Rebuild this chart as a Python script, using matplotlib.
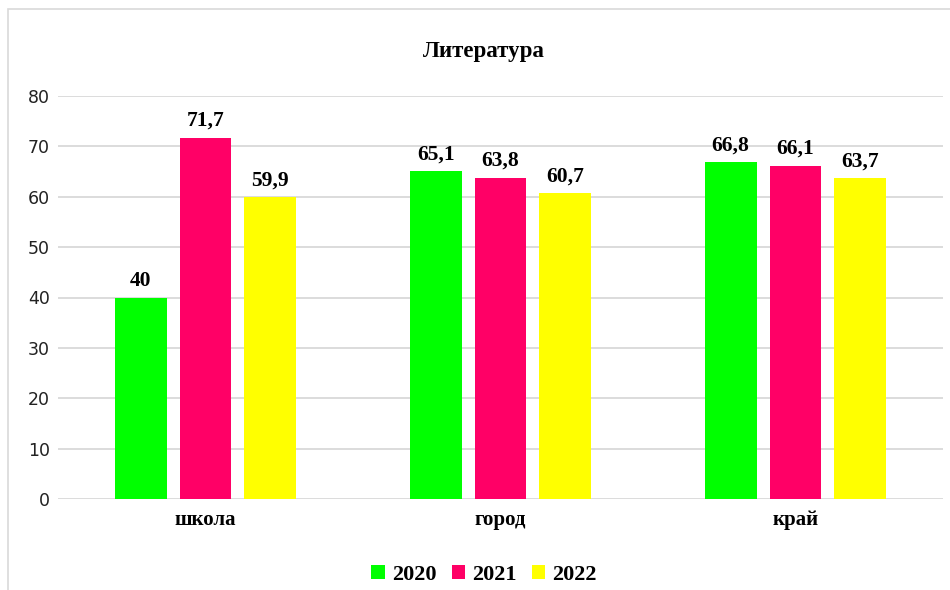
import numpy as np
import matplotlib
matplotlib.use("Agg")
import matplotlib.pyplot as plt
from matplotlib.patches import Rectangle

# data
categories = ["школа", "город", "край"]
years = ["2020", "2021", "2022"]
values_2020 = [40, 65.1, 66.8]
values_2021 = [71.7, 63.8, 66.1]
values_2022 = [59.9, 60.7, 63.7]
y_ticks = [0, 10, 20, 30, 40, 50, 60, 70, 80]

series = [values_2020, values_2021, values_2022]
colors = ["#00ff00", "#ff0066", "#ffff00"]
serif = ["Liberation Serif", "DejaVu Serif"]


def fmt(v):
    """format number with comma as decimal separator"""
    s = f"{v:g}"
    return s.replace(".", ",")


fig = plt.figure(figsize=(9.5, 5.9), dpi=100)
fig.patches.append(
    Rectangle((8 / 950, -0.1), 1.1, 1.1 - 9 / 590, transform=fig.transFigure,
              fill=False, edgecolor="#d9d9d9", linewidth=1.2)
)

ax = fig.add_axes([58 / 950, 1 - 499 / 590, 885 / 950, 403 / 590])
x = np.arange(len(categories))
width = 0.176
step = 0.22

for i, (vals, col, year) in enumerate(zip(series, colors, years)):
    pos = x + (i - 1) * step
    bars = ax.bar(pos, vals, width=width, color=col, label=year, zorder=3)
    for b, v in zip(bars, vals):
        ax.annotate(fmt(v), (b.get_x() + b.get_width() / 2, v),
                    xytext=(0, 5), textcoords="offset points",
                    ha="center", va="bottom", fontsize=15.5,
                    fontweight="bold", family=serif)

ax.set_xlim(-0.5, 2.5)
ax.set_ylim(0, 80)
ax.set_yticks(y_ticks)
ax.set_yticklabels([str(t) for t in y_ticks], fontsize=12.5,
                   family=["DejaVu Sans"])
ax.set_xticks(x)
ax.set_xticklabels(categories, fontsize=15, fontweight="bold", family=serif)
ax.tick_params(axis="both", length=0, colors="#222222")
ax.tick_params(axis="y", pad=6)
ax.tick_params(axis="x", pad=8, labelcolor="black")
ax.grid(axis="y", color="#d9d9d9", linewidth=1.3, zorder=0)
for side in ["top", "right", "left", "bottom"]:
    ax.spines[side].set_visible(False)

fig.text(484 / 950, 1 - 52 / 590, "Литература", ha="center", va="center",
         fontsize=16.5, fontweight="bold", family=serif)

leg = fig.legend(loc="center", bbox_to_anchor=(484 / 950, 1 - 575 / 590),
                 ncol=3, frameon=False, handlelength=0.6, handleheight=0.6,
                 handletextpad=0.32, columnspacing=0.68,
                 prop={"family": serif, "weight": "bold", "size": 16})

fig.savefig("out.png", dpi=100)
